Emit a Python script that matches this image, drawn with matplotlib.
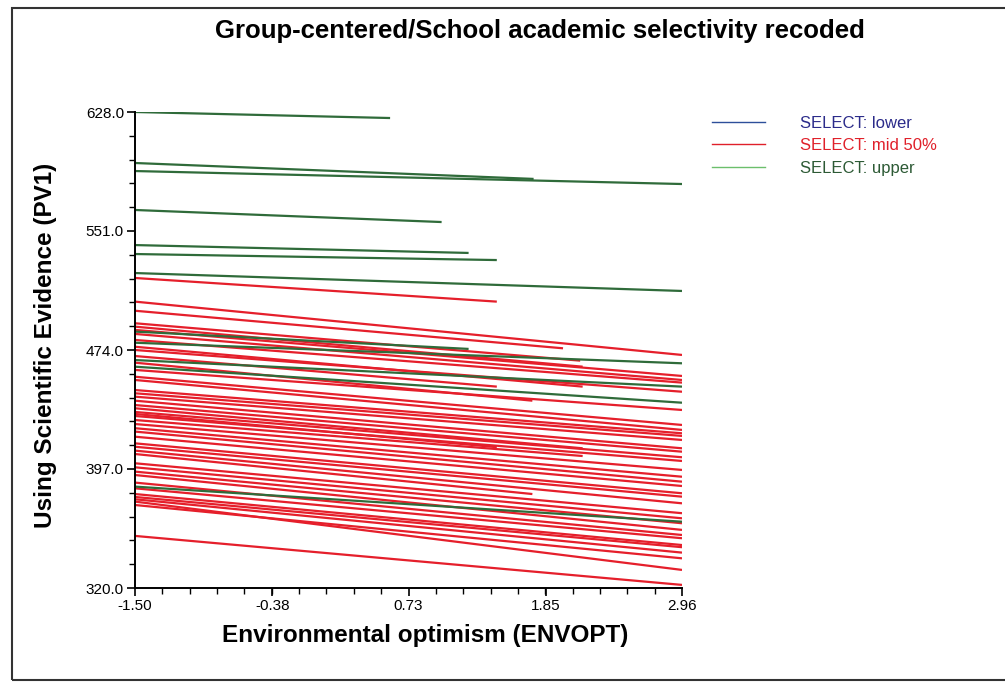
import matplotlib
matplotlib.use("Agg")
import matplotlib.pyplot as plt
import numpy as np
from matplotlib.lines import Line2D
from matplotlib.patches import Rectangle
from matplotlib.ticker import FixedLocator

plt.rcParams["font.family"] = ["Liberation Sans", "DejaVu Sans"]

# Each group's fitted line: starts at x = -1.50, ends at (x_end, y_end)
X_START = -1.50

# upper selectivity schools (green)
upper_y0 = [628.0, 595.0, 589.8, 564.6, 541.9, 536.1, 523.8, 485.9, 478.7, 467.5, 463.2, 385.6]
upper_x1 = [0.58, 1.75, 2.96, 1.00, 1.22, 1.45, 2.96, 1.22, 2.96, 2.96, 2.96, 2.96]
upper_y1 = [624.1, 584.7, 581.4, 556.8, 536.8, 532.2, 512.2, 474.7, 465.4, 450.3, 439.9, 362.9]

# mid 50% schools (red)
mid_y0 = [520.6, 499.4, 491.3, 489.1, 470.1, 476.1, 465.8, 432.6, 436.3, 428.7, 406.7,
          505.3, 487.0, 484.4, 480.5, 474.0, 461.1, 456.7, 454.6, 448.1, 446.0, 443.8,
          441.2, 438.4, 433.9, 431.3, 426.1, 423.4, 421.2, 417.9, 413.6, 411.4, 408.9,
          400.7, 398.1, 395.3, 393.1, 388.2, 384.5, 380.8, 378.9, 377.4, 373.7, 375.9,
          353.7]
mid_x1 = [1.45, 1.99, 2.13, 2.15, 1.45, 2.15, 1.74, 1.45, 2.15, 2.15, 1.74,
          2.96, 2.96, 2.96, 2.96, 2.96, 2.96, 2.96, 2.96, 2.96, 2.96, 2.96,
          2.96, 2.96, 2.96, 2.96, 2.96, 2.96, 2.96, 2.96, 2.96, 2.96, 2.96,
          2.96, 2.96, 2.96, 2.96, 2.96, 2.96, 2.96, 2.96, 2.96, 2.96, 2.96,
          2.96]
mid_y1 = [505.3, 475.1, 467.1, 463.2, 450.3, 450.3, 441.2, 411.1, 410.4, 405.4, 380.8,
          470.8, 457.2, 454.6, 452.9, 447.0, 435.2, 425.5, 422.3, 420.1, 418.4, 415.8,
          410.4, 408.2, 404.6, 402.2, 396.4, 392.0, 388.8, 386.0, 381.3, 379.1, 374.8,
          368.4, 365.1, 361.9, 357.6, 354.3, 352.2, 347.8, 346.4, 342.9, 339.2, 331.7,
          322.0]

x_ticks = [-1.50, -0.38, 0.73, 1.85, 2.96]
y_ticks = [320.0, 397.0, 474.0, 551.0, 628.0]
legend_labels = ["SELECT: lower", "SELECT: mid 50%", "SELECT: upper"]

RED = "#e51f2b"
GREEN = "#2f6b3a"

fig = plt.figure(figsize=(10.05, 6.86), dpi=100)
ax = fig.add_axes([135 / 1005, 98 / 686, 547 / 1005, 476 / 686])

for y0, x1, y1 in zip(mid_y0, mid_x1, mid_y1):
    ax.plot([X_START, x1], [y0, y1], color=RED, lw=1.6, solid_capstyle="butt")
for y0, x1, y1 in zip(upper_y0, upper_x1, upper_y1):
    ax.plot([X_START, x1], [y0, y1], color=GREEN, lw=1.6, solid_capstyle="butt")

ax.set_xlim(x_ticks[0], x_ticks[-1])
ax.set_ylim(y_ticks[0], y_ticks[-1])
ax.set_xticks(x_ticks)
ax.set_xticklabels([f"{v:.2f}" for v in x_ticks])
ax.set_yticks(y_ticks)
ax.set_yticklabels([f"{v:.1f}" for v in y_ticks])
ax.xaxis.set_minor_locator(FixedLocator(np.linspace(x_ticks[0], x_ticks[-1], 21)))
ax.yaxis.set_minor_locator(FixedLocator(np.linspace(y_ticks[0], y_ticks[-1], 21)))
ax.tick_params(which="major", length=6, width=1.2, labelsize=11, direction="out", pad=2)
ax.tick_params(which="minor", length=4, width=1.0, direction="out")
for s in ("top", "right"):
    ax.spines[s].set_visible(False)
for s in ("left", "bottom"):
    ax.spines[s].set_linewidth(1.4)

ax.set_xlabel("Environmental optimism (ENVOPT)", fontsize=17.5, fontweight="bold")
ax.xaxis.set_label_coords((425 - 135) / 547, -36 / 476)
ax.set_ylabel("Using Scientific Evidence (PV1)", fontsize=17.5, fontweight="bold")
ax.yaxis.set_label_coords(-(135 - 57) / 547, (588 - 345) / 476)

fig.text(540 / 1005, 1 - 31 / 686, "Group-centered/School academic selectivity recoded",
         ha="center", va="center", fontsize=18.5, fontweight="bold")

handles = [Line2D([], [], color="#2d4f9a", lw=1),
           Line2D([], [], color="#e0202a", lw=1),
           Line2D([], [], color="#6cbf6c", lw=1)]
leg = ax.legend(handles, legend_labels, loc="upper left",
                bbox_to_anchor=(700 / 1005, 1 - 104 / 686), bbox_transform=fig.transFigure,
                frameon=False, fontsize=12, handlelength=3.2, handletextpad=2.1,
                labelspacing=0.45, borderaxespad=0.3, labelcolor=["#2b2b8a", "#e0202a", "#2d5a35"])

fig.patches.append(Rectangle((12 / 1005, 6 / 686), 1.0, 672 / 686, transform=fig.transFigure,
                             fill=False, edgecolor="#333333", lw=1.5))

fig.savefig("out.png", dpi=100)
